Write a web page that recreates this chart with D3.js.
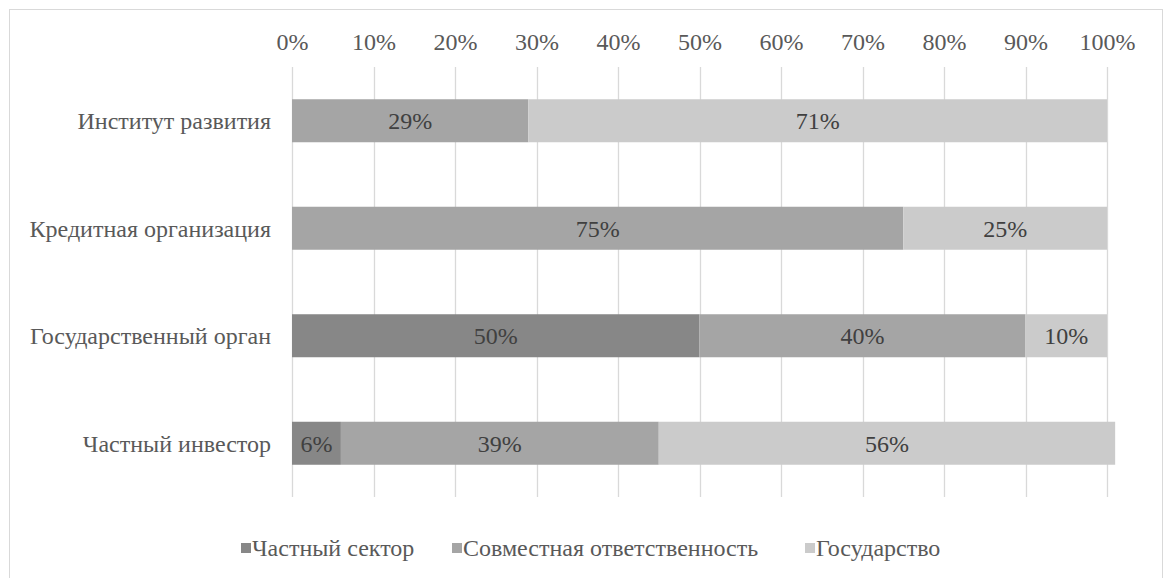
<!DOCTYPE html>
<html>
<head>
<script src="https://cdn.jsdelivr.net/npm/d3@7"></script>
</head>
<body style="margin:0">
<svg id="chart" width="1168" height="578"></svg>
<script>
// Categories, top to bottom
const categories = ["Институт развития", "Кредитная организация", "Государственный орган", "Частный инвестор"];
// Series (shares, %)
const seriesNames = ["Частный сектор", "Совместная ответственность", "Государство"];
const privateSector = [0, 0, 50, 6];
const jointResponsibility = [29, 75, 40, 39];
const government = [71, 25, 10, 56];
const seriesColors = ["#878787", "#a5a5a5", "#cbcbcb"];
const tickValues = [0, 10, 20, 30, 40, 50, 60, 70, 80, 90, 100];

const fontName = "Liberation Serif";
const FS = 24;
const setFont = sel => sel.attr("font-size", FS).style("font-family", `"${fontName}"`);

const rows = categories.map((c, i) => ({
  category: c,
  "Частный сектор": privateSector[i],
  "Совместная ответственность": jointResponsibility[i],
  "Государство": government[i]
}));

const svg = d3.select("#chart");

// Chart frame
svg.append("rect")
  .attr("x", 9.5).attr("y", 9.5)
  .attr("width", 1153).attr("height", 600)
  .attr("fill", "#fff").attr("stroke", "#d9d9d9").attr("stroke-width", 1);

const plot = { left: 292, right: 1107, top: 67, bottom: 497 };

const x = d3.scaleLinear().domain([0, 100]).range([plot.left, plot.right]);
const y = d3.scaleBand().domain(categories).range([plot.top, plot.bottom]).paddingInner(0.6).paddingOuter(0.3);

// Vertical gridlines
svg.append("g").selectAll("line").data(tickValues).join("line")
  .attr("x1", d => Math.round(x(d)) + 0.5).attr("x2", d => Math.round(x(d)) + 0.5)
  .attr("y1", plot.top).attr("y2", plot.bottom)
  .attr("stroke", "#d9d9d9").attr("stroke-width", 1.3);

// Top axis labels
const xAxis = d3.axisTop(x).tickValues(tickValues).tickFormat(d => d + "%").tickSize(0).tickPadding(0);
const ax = svg.append("g").attr("transform", `translate(0, 50)`).call(xAxis);
ax.attr("font-family", null).attr("font-size", null);
ax.select(".domain").remove();
ax.selectAll("text").attr("fill", "#595959").call(setFont);

// Category labels
svg.append("g").selectAll("text").data(categories).join("text")
  .attr("x", 271).attr("y", d => y(d) + y.bandwidth() / 2)
  .attr("dy", "0.35em").attr("text-anchor", "end")
  .attr("fill", "#595959").call(setFont)
  .text(d => d);

// Stacked bars
const stack = d3.stack().keys(seriesNames);
const layers = stack(rows);
const color = d3.scaleOrdinal().domain(seriesNames).range(seriesColors);

const g = svg.append("g");
layers.forEach(layer => {
  const segs = layer.map((s, i) => ({ x0: s[0], x1: s[1], cat: categories[i], v: s[1] - s[0] }))
    .filter(d => d.v > 0);
  g.append("g").selectAll("rect").data(segs).join("rect")
    .attr("x", d => x(d.x0)).attr("width", d => x(d.x1) - x(d.x0))
    .attr("y", d => y(d.cat)).attr("height", y.bandwidth())
    .attr("fill", color(layer.key));
  g.append("g").selectAll("text").data(segs).join("text")
    .attr("x", d => (x(d.x0) + x(d.x1)) / 2)
    .attr("y", d => y(d.cat) + y.bandwidth() / 2)
    .attr("dy", "0.35em").attr("text-anchor", "middle")
    .attr("fill", "#404040").call(setFont)
    .text(d => d.v + "%");
});

// Legend
const legendX = [241, 452, 805];
const items = svg.append("g").selectAll("g").data(seriesNames).join("g")
  .attr("transform", (d, i) => `translate(${legendX[i]}, 543)`);
items.append("rect").attr("width", 10).attr("height", 10).attr("fill", d => color(d));
items.append("text").attr("x", 11).attr("y", 5).attr("dy", "0.35em")
  .attr("fill", "#595959").call(setFont).text(d => d);
</script>
</body>
</html>
